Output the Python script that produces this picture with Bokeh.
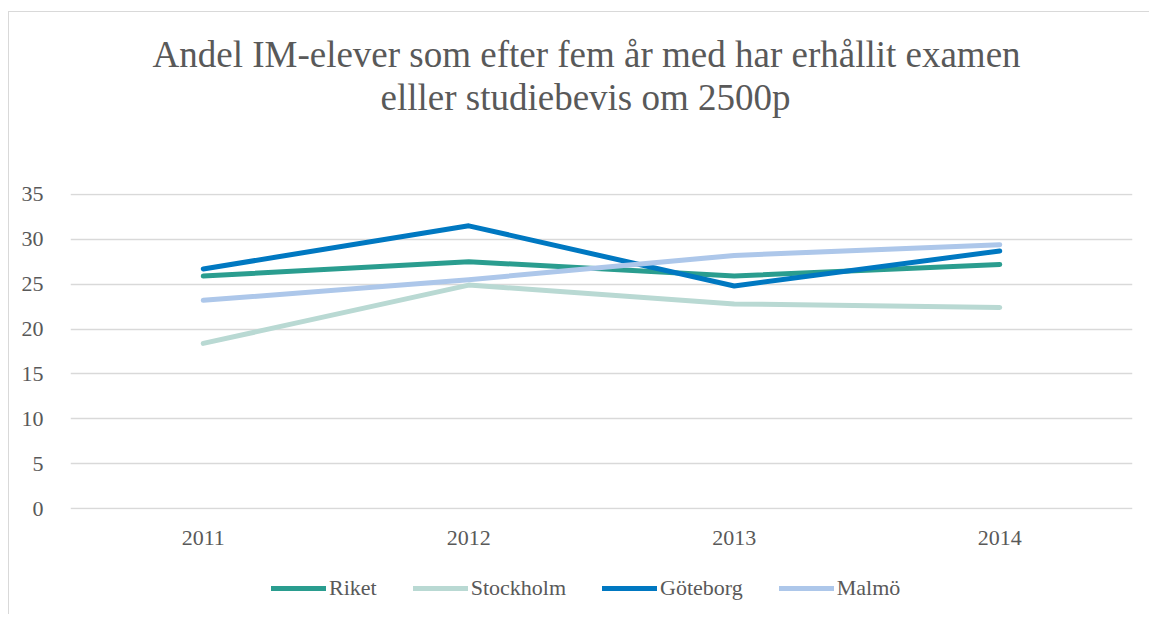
from bokeh.plotting import figure
from bokeh.layouts import column
from bokeh.models import Legend, LegendItem, Title, ColumnDataSource, SingleIntervalTicker
from bokeh.embed import file_html
from bokeh.resources import INLINE

years = ["2011", "2012", "2013", "2014"]
riket = [25.9, 27.5, 25.9, 27.2]
stockholm = [18.4, 24.9, 22.8, 22.4]
goteborg = [26.7, 31.5, 24.8, 28.7]
malmo = [23.2, 25.5, 28.2, 29.4]
title_lines = ["Andel IM-elever som efter fem år med har erhållit examen",
               "elller studiebevis om 2500p"]

series = [
    ("Riket", riket, "#2a9d8f"),
    ("Stockholm", stockholm, "#b9d9d3"),
    ("Göteborg", goteborg, "#0078c1"),
    ("Malmö", malmo, "#adc7ea"),
]

FONT = "Liberation Serif"
TXT = "#595959"

p = figure(x_range=years, y_range=(-0.1, 35.1), width=1140, height=544,
           output_backend="svg", toolbar_location=None,
           min_border_left=61, min_border_right=17, min_border_top=181, min_border_bottom=47)
p.x_range.range_padding = 0
p.outline_line_color = None

# spacer between the plot area and the two title lines
t0 = Title(text=" ", text_font=FONT, text_font_size="10px", standoff=63)
t2 = Title(text=title_lines[1], align="left", text_font=FONT, text_font_size="37px",
           text_font_style="normal", text_color=TXT, standoff=0, offset=310)
t1 = Title(text=title_lines[0], align="left", text_font=FONT, text_font_size="37px",
           text_font_style="normal", text_color=TXT, standoff=0, offset=82)
p.add_layout(t0, "above")
p.add_layout(t2, "above")
p.add_layout(t1, "above")

for name, vals, col in series:
    src = ColumnDataSource(dict(x=years, y=vals))
    p.line("x", "y", source=src, line_color=col, line_width=5, line_cap="round", line_join="round")

p.yaxis.ticker = SingleIntervalTicker(interval=5)
for ax in (p.xaxis[0], p.yaxis[0]):
    ax.axis_line_color = None
    ax.major_tick_line_color = None
    ax.minor_tick_line_color = None
    ax.major_label_text_font = FONT
    ax.major_label_text_font_size = "22px"
    ax.major_label_text_color = TXT
p.yaxis.major_label_standoff = 21
p.xaxis.major_label_standoff = 15

p.xgrid.grid_line_color = None
p.ygrid.grid_line_color = "#d9d9d9"
p.ygrid.grid_line_width = 1.3

# legend strip below the chart (legend keys only, no data drawn)
lg = figure(width=1140, height=58, x_range=(0, 1), y_range=(0, 1),
            output_backend="svg", toolbar_location=None,
            x_axis_location=None, y_axis_location=None,
            min_border_left=0, min_border_right=0, min_border_top=0, min_border_bottom=0)
lg.outline_line_color = None
lg.xgrid.grid_line_color = None
lg.ygrid.grid_line_color = None
items = []
for name, vals, col in series:
    r = lg.line(x=[float("nan")], y=[float("nan")], line_color=col, line_width=5, line_cap="round")
    items.append(LegendItem(label=name, renderers=[r]))
legend = Legend(items=items, orientation="horizontal", location=(201, 13),
                label_text_font=FONT, label_text_font_size="22px", label_text_color=TXT,
                glyph_width=55, glyph_height=20, spacing=36, label_standoff=3,
                border_line_color=None, background_fill_alpha=0, padding=0, margin=0)
lg.add_layout(legend, "center")

layout = column(p, lg, spacing=0, margin=(11, 0, 0, 8),
                styles={"border-left": "1px solid #d9d9d9", "border-top": "1px solid #d9d9d9"})

open("out.html", "w").write(file_html(layout, INLINE))
